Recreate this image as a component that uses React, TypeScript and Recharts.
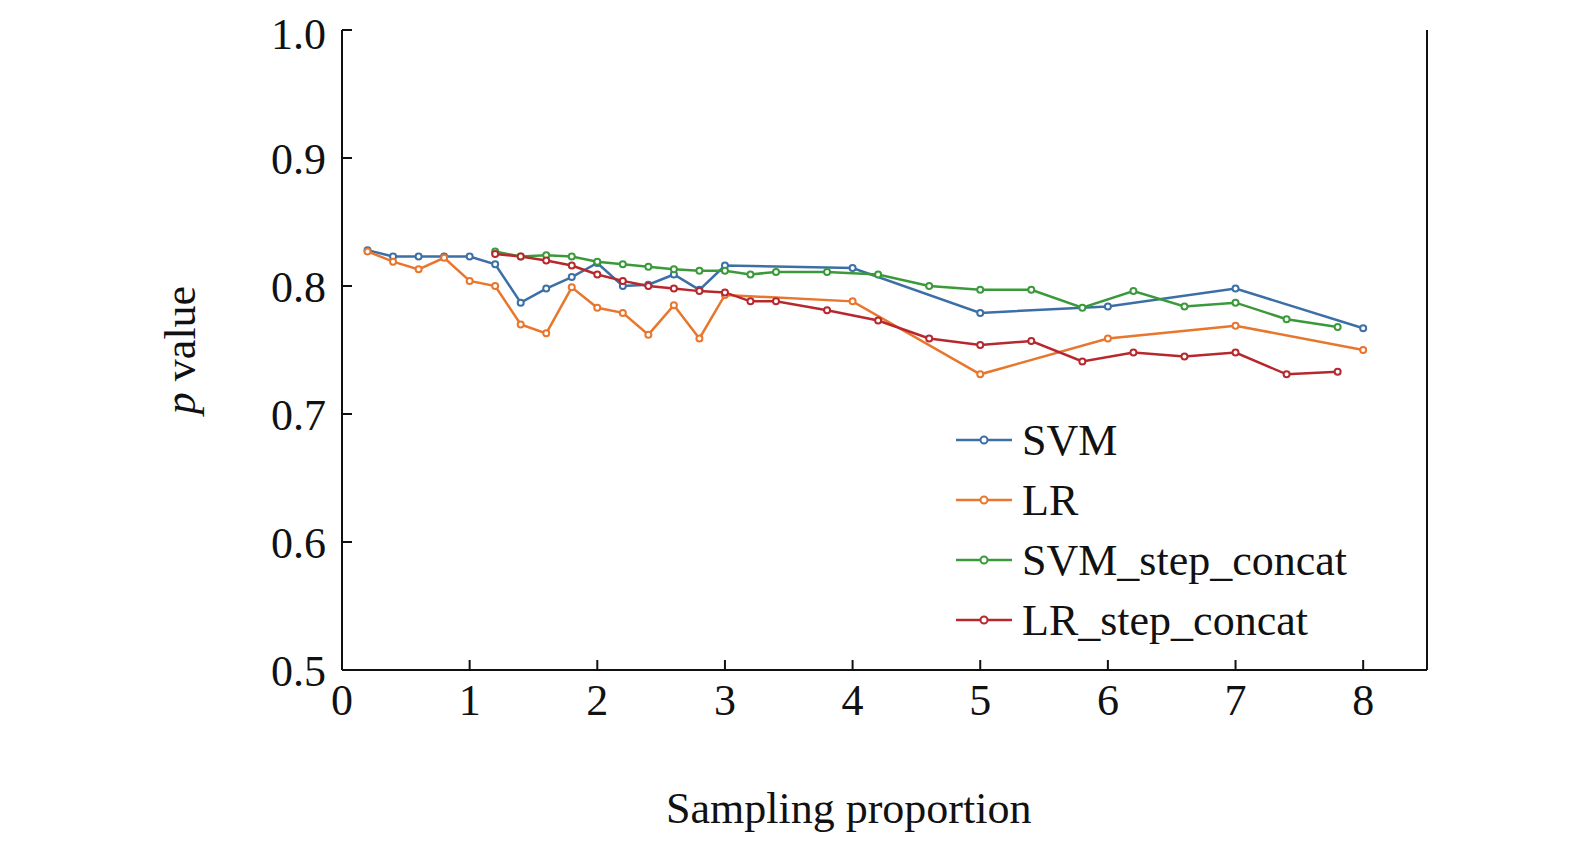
import React from "react";
import { LineChart, Line, XAxis, YAxis } from "recharts";

const svmX = [0.2,0.4,0.6,0.8,1.0,1.2,1.4,1.6,1.8,2.0,2.2,2.4,2.6,2.8,3.0,4.0,5.0,6.0,7.0,8.0];
const svmY = [0.828,0.823,0.823,0.823,0.823,0.817,0.787,0.798,0.807,0.818,0.800,0.801,0.809,0.797,0.816,0.814,0.779,0.784,0.798,0.767];
const lrX = svmX;
const lrY = [0.827,0.819,0.813,0.822,0.804,0.800,0.770,0.763,0.799,0.783,0.779,0.762,0.785,0.759,0.793,0.788,0.731,0.759,0.769,0.750];
const svmStepX = [1.2,1.4,1.6,1.8,2.0,2.2,2.4,2.6,2.8,3.0,3.2,3.4,3.8,4.2,4.6,5.0,5.4,5.8,6.2,6.6,7.0,7.4,7.8];
const svmStepY = [0.827,0.823,0.824,0.823,0.819,0.817,0.815,0.813,0.812,0.812,0.809,0.811,0.811,0.809,0.800,0.797,0.797,0.783,0.796,0.784,0.787,0.774,0.768];
const lrStepX = svmStepX;
const lrStepY = [0.825,0.823,0.820,0.816,0.809,0.804,0.800,0.798,0.796,0.795,0.788,0.788,0.781,0.773,0.759,0.754,0.757,0.741,0.748,0.745,0.748,0.731,0.733];

const xTicks = [0,1,2,3,4,5,6,7,8];
const yTicks = [0.5,0.6,0.7,0.8,0.9,1.0];

const zip = (xs: number[], ys: number[]) => xs.map((x, i) => ({ x, y: ys[i] }));
const series = [
  { name: "SVM", color: "#3c6fa6", data: zip(svmX, svmY) },
  { name: "LR", color: "#e8762d", data: zip(lrX, lrY) },
  { name: "SVM_step_concat", color: "#3a9a3a", data: zip(svmStepX, svmStepY) },
  { name: "LR_step_concat", color: "#b7282e", data: zip(lrStepX, lrStepY) },
];

const font = "'Liberation Serif', 'Times New Roman', serif";
const tickStyle = { fontSize: 44, fill: "#111", fontFamily: font };

export default function App() {
  return (
    <div style={{ position: "relative", width: 1560, height: 830 }}>
      <LineChart width={1560} height={830} margin={{ top: 22, right: 140, left: 254, bottom: 108 }}>
        <XAxis xAxisId="b" type="number" dataKey="x" domain={[0, 8.5]} ticks={xTicks} tickSize={-10}
          tick={{ ...tickStyle, dy: 22 }} stroke="#111" strokeWidth={2} height={60} allowDuplicatedCategory={false} />
        <XAxis xAxisId="t" orientation="top" type="number" dataKey="x" domain={[0, 8.5]} tick={false} tickLine={false} stroke="#111" strokeWidth={2} height={0} />
        <YAxis yAxisId="l" domain={[0.5, 1.0]} ticks={yTicks} tickSize={-10} width={80}
          tick={{ ...tickStyle, dx: -24 }} tickFormatter={(v: number) => v.toFixed(1)} stroke="#111" strokeWidth={2} />
        <YAxis yAxisId="r" orientation="right" domain={[0.5, 1.0]} tick={false} tickLine={false} stroke="#111" strokeWidth={2} width={1} />
        {series.map((s) => (
          <Line key={s.name} xAxisId="b" yAxisId="l" data={s.data} dataKey="y" name={s.name} type="linear"
            stroke={s.color} strokeWidth={2.5} isAnimationActive={false}
            dot={{ r: 3, fill: "#fff", stroke: s.color, strokeWidth: 2 }} />
        ))}
      </LineChart>
      <div style={{ position: "absolute", left: 948, top: 402, fontFamily: font, fontSize: 44, color: "#111" }}>
        {series.map((s) => (
          <div key={s.name} style={{ display: "flex", alignItems: "center", height: 60 }}>
            <svg width={56} height={20} style={{ marginRight: 10 }}>
              <line x1={0} y1={10} x2={56} y2={10} stroke={s.color} strokeWidth={2.5} />
              <circle cx={28} cy={10} r={3.5} fill="#fff" stroke={s.color} strokeWidth={2} />
            </svg>
            {s.name}
          </div>
        ))}
      </div>
      <div style={{ position: "absolute", left: 658, top: 775, whiteSpace: "nowrap", fontFamily: font, fontSize: 44, color: "#111" }}>
        Sampling proportion
      </div>
      <div style={{ position: "absolute", left: 172, top: 342, transform: "translate(-50%,-50%) rotate(-90deg)", fontFamily: font, fontSize: 44, color: "#111", whiteSpace: "nowrap" }}>
        <i>p</i> value
      </div>
    </div>
  );
}
